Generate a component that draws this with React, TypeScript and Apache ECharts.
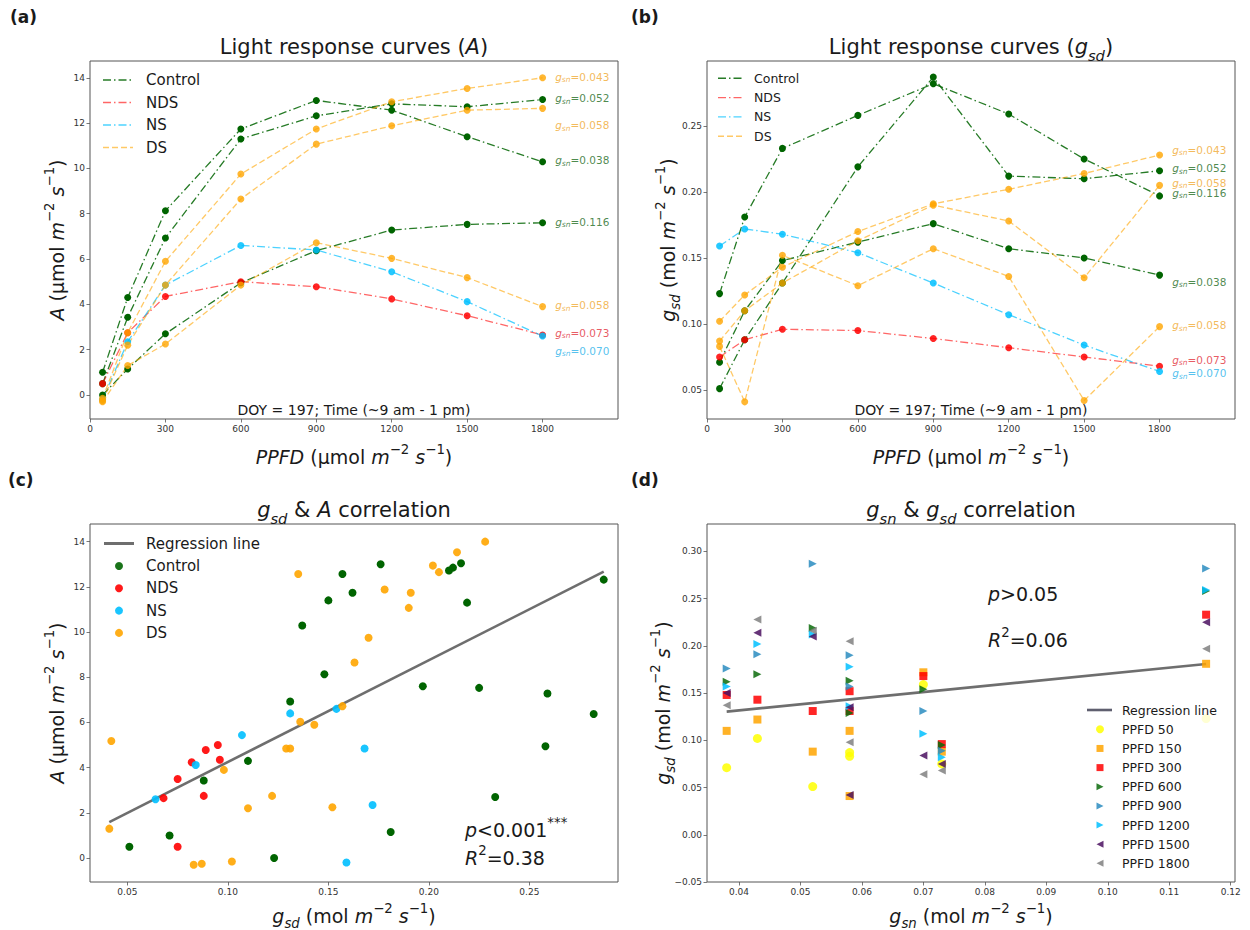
import React, { useEffect, useRef } from 'react';
import * as echarts from 'echarts';

// ---------------- data ----------------
const PPFD = [50, 150, 300, 600, 900, 1200, 1500, 1800];
const PLANT_IDS = ['Control-1', 'Control-2', 'Control-3', 'NDS-1', 'NS-1', 'DS-1', 'DS-2', 'DS-3'];
const PLANT_TREATMENT = ['Control', 'Control', 'Control', 'NDS', 'NS', 'DS', 'DS', 'DS'];
const PLANT_GSN = [0.052, 0.038, 0.116, 0.073, 0.070, 0.043, 0.058, 0.058];
const PLANT_GSN_TEXT = ['0.052', '0.038', '0.116', '0.073', '0.070', '0.043', '0.058', '0.058'];

const A_CONTROL_1 = [0.5, 3.43, 6.93, 11.3, 12.32, 12.85, 12.72, 13.04];
const A_CONTROL_2 = [1.0, 4.3, 8.13, 11.74, 13.0, 12.57, 11.4, 10.29];
const A_CONTROL_3 = [0.0, 1.15, 2.7, 4.95, 6.37, 7.28, 7.53, 7.6];
const A_NDS_1 = [0.5, 2.75, 4.35, 5.0, 4.78, 4.24, 3.5, 2.65];
const A_NS_1 = [-0.2, 2.35, 4.85, 6.6, 6.4, 5.44, 4.12, 2.6];
const A_DS_1 = [-0.15, 2.75, 5.9, 9.75, 11.74, 12.94, 13.53, 14.0];
const A_DS_2 = [-0.25, 2.2, 4.85, 8.65, 11.07, 11.88, 12.57, 12.65];
const A_DS_3 = [-0.3, 1.3, 2.25, 4.85, 6.72, 6.03, 5.18, 3.9];

const GSD_CONTROL_1 = [0.051, 0.088, 0.131, 0.219, 0.287, 0.212, 0.210, 0.216];
const GSD_CONTROL_2 = [0.071, 0.110, 0.148, 0.162, 0.176, 0.157, 0.150, 0.137];
const GSD_CONTROL_3 = [0.123, 0.181, 0.233, 0.258, 0.282, 0.259, 0.225, 0.197];
const GSD_NDS_1 = [0.075, 0.088, 0.096, 0.095, 0.089, 0.082, 0.075, 0.068];
const GSD_NS_1 = [0.159, 0.172, 0.168, 0.154, 0.131, 0.107, 0.084, 0.064];
const GSD_DS_1 = [0.102, 0.122, 0.143, 0.170, 0.191, 0.202, 0.214, 0.228];
const GSD_DS_2 = [0.087, 0.110, 0.131, 0.163, 0.190, 0.178, 0.135, 0.205];
const GSD_DS_3 = [0.083, 0.041, 0.152, 0.129, 0.157, 0.136, 0.042, 0.098];

// annotation anchor values (end-of-curve g_sn labels)
const LABEL_X = 1850;
const LABEL_Y_A = [13.1, 10.35, 7.65, 2.75, 1.95, 14.05, 11.9, 3.95];
const LABEL_Y_GSD = [0.218, 0.132, 0.1995, 0.0727, 0.0627, 0.232, 0.207, 0.099];

// tick labels
const PPFD_TICKS = [0, 300, 600, 900, 1200, 1500, 1800];
const A_TICKS = [0, 2, 4, 6, 8, 10, 12, 14];
const GSD_TICKS_B = [0.05, 0.1, 0.15, 0.2, 0.25];
const GSD_TICKS_C = [0.05, 0.1, 0.15, 0.2, 0.25];
const GSN_TICKS = [0.04, 0.05, 0.06, 0.07, 0.08, 0.09, 0.1, 0.11, 0.12];
const GSD_TICKS_D = [-0.05, 0, 0.05, 0.1, 0.15, 0.2, 0.25, 0.3];

const TREATMENTS = ['Control', 'NDS', 'NS', 'DS'];
const PPFD_LABELS = ['PPFD 50', 'PPFD 150', 'PPFD 300', 'PPFD 600', 'PPFD 900', 'PPFD 1200', 'PPFD 1500', 'PPFD 1800'];

const A_ALL = [A_CONTROL_1, A_CONTROL_2, A_CONTROL_3, A_NDS_1, A_NS_1, A_DS_1, A_DS_2, A_DS_3];
const GSD_ALL = [GSD_CONTROL_1, GSD_CONTROL_2, GSD_CONTROL_3, GSD_NDS_1, GSD_NS_1, GSD_DS_1, GSD_DS_2, GSD_DS_3];

// ---------------- styles ----------------
const FONT = 'DejaVu Sans';
const DASH_DOT = [8, 3, 1.5, 3];
const DASHED = [6, 3];
const TS: any = {
  Control: { color: '#006400', text: '#1d6b1d', dash: DASH_DOT, lineOp: 0.85, mkOp: 1 },
  NDS: { color: '#ff0000', text: '#e2303a', dash: DASH_DOT, lineOp: 0.6, mkOp: 0.85 },
  NS: { color: '#00bfff', text: '#29b2ea', dash: DASH_DOT, lineOp: 0.7, mkOp: 0.85 },
  DS: { color: '#ffa500', text: '#f0a830', dash: DASHED, lineOp: 0.6, mkOp: 0.8 },
};
const PPFD_STYLE: any[] = [
  { color: '#ffff00', symbol: 'circle', size: 9 },
  { color: '#ffa500', symbol: 'rect', size: 8 },
  { color: '#ff0000', symbol: 'rect', size: 8 },
  { color: '#0b6b0b', symbol: 'path://M0,0L10,5L0,10Z', size: 8 },
  { color: '#2a8cc0', symbol: 'path://M0,0L10,5L0,10Z', size: 8 },
  { color: '#00bfff', symbol: 'path://M0,0L10,5L0,10Z', size: 8 },
  { color: '#4b1060', symbol: 'path://M10,0L0,5L10,10Z', size: 8 },
  { color: '#808080', symbol: 'path://M10,0L0,5L10,10Z', size: 8 },
];

const GRIDS = [
  { left: 90, top: 61, width: 528, height: 358 },
  { left: 707, top: 61, width: 528, height: 358 },
  { left: 90, top: 524, width: 528, height: 358 },
  { left: 707, top: 524, width: 528, height: 358 },
];

const R = (s: number, c = '#1a1a1a') => ({
  n: { fontFamily: FONT, fontSize: s, color: c, lineHeight: s * 1.5 },
  i: { fontFamily: FONT, fontSize: s, fontStyle: 'italic', color: c, lineHeight: s * 1.5 },
  b: { fontFamily: FONT, fontSize: s, fontWeight: 'bold', color: c, lineHeight: s * 1.5 },
  sup: { fontFamily: FONT, fontSize: s * 0.7, color: c, verticalAlign: 'top', lineHeight: s * 0.84 },
  isub: { fontFamily: FONT, fontSize: s * 0.7, fontStyle: 'italic', color: c, verticalAlign: 'bottom', lineHeight: s * 0.84 },
});

function T(x: number, y: number, text: string, size: number, align = 'center', rotate = false, color = '#1a1a1a') {
  return {
    type: 'text', x, y, z: 100, silent: true,
    rotation: rotate ? Math.PI / 2 : 0,
    style: { text, rich: R(size, color), align, verticalAlign: 'middle', fontFamily: FONT, fontSize: size, fill: color },
  };
}

function fit(xs: number[], ys: number[]) {
  const n = xs.length;
  const mx = xs.reduce((a, b) => a + b, 0) / n;
  const my = ys.reduce((a, b) => a + b, 0) / n;
  let sxy = 0, sxx = 0;
  for (let i = 0; i < n; i++) { sxy += (xs[i] - mx) * (ys[i] - my); sxx += (xs[i] - mx) ** 2; }
  const slope = sxy / sxx;
  return { slope, intercept: my - slope * mx };
}

function axis(gridIndex: number, min: number, max: number, ticks: number[], fmt: (v: number) => string) {
  return {
    type: 'value', gridIndex, min, max,
    axisLine: { show: false, onZero: false },
    axisTick: { show: true, customValues: ticks, length: 3.5, lineStyle: { color: '#555', width: 0.8 } },
    axisLabel: { show: true, customValues: ticks, formatter: fmt, fontSize: 9, color: '#333', fontFamily: FONT, margin: 5 },
    splitLine: { show: false },
  };
}
const f0 = (v: number) => String(Math.round(v));
const f2 = (v: number) => v.toFixed(2).replace('-', '\u2212');

function buildOption() {
  const series: any[] = [];
  const annot = (c: string) => ({
    g: { fontFamily: FONT, fontSize: 10.5, fontStyle: 'italic', color: c, lineHeight: 14 },
    s: { fontFamily: FONT, fontSize: 7.5, fontStyle: 'italic', color: c, verticalAlign: 'bottom', lineHeight: 9 },
    v: { fontFamily: FONT, fontSize: 10.5, color: c, lineHeight: 14 },
  });

  // panels (a) and (b)
  [0, 1].forEach((ax) => {
    const vals = ax === 0 ? A_ALL : GSD_ALL;
    const labY = ax === 0 ? LABEL_Y_A : LABEL_Y_GSD;
    PLANT_IDS.forEach((id, p) => {
      const st = TS[PLANT_TREATMENT[p]];
      series.push({
        type: 'line', name: id, xAxisIndex: ax, yAxisIndex: ax, silent: true, z: 2,
        data: PPFD.map((x, k) => [x, vals[p][k]]),
        symbol: 'circle', symbolSize: 7, showSymbol: true,
        lineStyle: { color: st.color, width: 1.3, type: st.dash, opacity: st.lineOp },
        itemStyle: { color: st.color, opacity: st.mkOp },
      });
      series.push({
        type: 'scatter', xAxisIndex: ax, yAxisIndex: ax, silent: true, symbolSize: 0,
        itemStyle: { color: 'rgba(0,0,0,0)' },
        data: [[LABEL_X, labY[p]]],
        label: {
          show: true, position: 'right', distance: 0,
          formatter: `{g|g}{s|sn}{v|=${PLANT_GSN_TEXT[p]}}`, rich: annot(st.text),
        },
      });
    });
  });

  // panel (c)
  const allG: number[] = [], allA: number[] = [];
  PLANT_IDS.forEach((_, p) => PPFD.forEach((_, k) => { allG.push(GSD_ALL[p][k]); allA.push(A_ALL[p][k]); }));
  const fc = fit(allG, allA);
  const gmin = Math.min(...allG), gmax = Math.max(...allG);
  series.push({
    type: 'line', xAxisIndex: 2, yAxisIndex: 2, silent: true, symbol: 'none', z: 1,
    data: [[gmin, fc.intercept + fc.slope * gmin], [gmax, fc.intercept + fc.slope * gmax]],
    lineStyle: { color: '#6e6e6e', width: 2.6 },
  });
  TREATMENTS.forEach((t) => {
    const pts: number[][] = [];
    PLANT_IDS.forEach((_, p) => {
      if (PLANT_TREATMENT[p] === t) PPFD.forEach((_, k) => pts.push([GSD_ALL[p][k], A_ALL[p][k]]));
    });
    series.push({
      type: 'scatter', xAxisIndex: 2, yAxisIndex: 2, silent: true, z: 3,
      data: pts, symbol: 'circle', symbolSize: 8,
      itemStyle: { color: TS[t].color, opacity: t === 'Control' ? 1 : 0.9 },
    });
  });

  // panel (d)
  const allN: number[] = [], allD: number[] = [];
  PLANT_IDS.forEach((_, p) => PPFD.forEach((_, k) => { allN.push(PLANT_GSN[p]); allD.push(GSD_ALL[p][k]); }));
  const fd = fit(allN, allD);
  const nmin = Math.min(...allN), nmax = Math.max(...allN);
  series.push({
    type: 'line', xAxisIndex: 3, yAxisIndex: 3, silent: true, symbol: 'none', z: 1,
    data: [[nmin, fd.intercept + fd.slope * nmin], [nmax, fd.intercept + fd.slope * nmax]],
    lineStyle: { color: '#6e6e6e', width: 2.6 },
  });
  PPFD.forEach((_, k) => {
    const st = PPFD_STYLE[k];
    series.push({
      type: 'scatter', xAxisIndex: 3, yAxisIndex: 3, silent: true, z: 3,
      data: PLANT_IDS.map((_, p) => [PLANT_GSN[p], GSD_ALL[p][k]]),
      symbol: st.symbol, symbolSize: st.size,
      itemStyle: { color: st.color, opacity: 0.85 },
    });
  });

  // ---------- graphics: titles, labels, legends ----------
  const g: any[] = [];
  const unitsA = '{n| (µmol }{i|m}{sup|−2}{n| }{i|s}{sup|−1}{n|)}';
  const unitsG = '{n| (mol }{i|m}{sup|−2}{n| }{i|s}{sup|−1}{n|)}';
  g.push(T(10, 17, '{b|(a)}', 17, 'left'));
  g.push(T(631, 17, '{b|(b)}', 17, 'left'));
  g.push(T(8, 480, '{b|(c)}', 17, 'left'));
  g.push(T(631, 480, '{b|(d)}', 17, 'left'));
  g.push(T(354, 47, '{n|Light response curves (}{i|A}{n|)}', 21));
  g.push(T(971, 47, '{n|Light response curves (}{i|g}{isub|sd}{n|)}', 21));
  g.push(T(354, 510, '{i|g}{isub|sd}{n| & }{i|A}{n| correlation}', 21));
  g.push(T(971, 510, '{i|g}{isub|sn}{n| & }{i|g}{isub|sd}{n| correlation}', 21));
  g.push(T(354, 457, '{i|PPFD}' + unitsA, 19));
  g.push(T(971, 457, '{i|PPFD}' + unitsA, 19));
  g.push(T(354, 916, '{i|g}{isub|sd}' + unitsG, 19));
  g.push(T(971, 916, '{i|g}{isub|sn}' + unitsG, 19));
  g.push(T(57, 240, '{i|A}' + unitsA, 19, 'center', true));
  g.push(T(668, 240, '{i|g}{isub|sd}' + unitsG, 19, 'center', true));
  g.push(T(57, 703, '{i|A}' + unitsA, 19, 'center', true));
  g.push(T(663, 703, '{i|g}{isub|sd}' + unitsG, 19, 'center', true));
  g.push(T(354, 410, '{n|DOY = 197; Time (~9 am - 1 pm)}', 14));
  g.push(T(971, 410, '{n|DOY = 197; Time (~9 am - 1 pm)}', 14));
  g.push(T(465, 830, '{i|p}{n|<0.001}{sup|***}', 19, 'left'));
  g.push(T(465, 858, '{i|R}{sup|2}{n|=0.38}', 19, 'left'));
  g.push(T(988, 594, '{i|p}{n|>0.05}', 19, 'left'));
  g.push(T(988, 640, '{i|R}{sup|2}{n|=0.06}', 19, 'left'));

  // legends (a) and (b)
  const lineLegend = (x1: number, x2: number, tx: number, y0: number, dy: number, size: number) => {
    TREATMENTS.forEach((t, i) => {
      const y = y0 + i * dy;
      g.push({ type: 'line', z: 100, silent: true, shape: { x1, y1: y, x2, y2: y },
        style: { stroke: TS[t].color, lineWidth: 1.4, lineDash: TS[t].dash, opacity: TS[t].lineOp } });
      g.push(T(tx, y, `{n|${t}}`, size, 'left'));
    });
  };
  lineLegend(103, 133, 146, 80, 22.5, 15);
  lineLegend(718, 743, 754, 78.3, 19.3, 12.5);

  // legend (c)
  g.push({ type: 'line', z: 100, silent: true, shape: { x1: 104, y1: 543.5, x2: 134, y2: 543.5 },
    style: { stroke: '#6e6e6e', lineWidth: 3 } });
  g.push(T(146, 543.5, '{n|Regression line}', 15, 'left'));
  TREATMENTS.forEach((t, i) => {
    const y = 566 + i * 22.3;
    g.push({ type: 'circle', z: 100, silent: true, shape: { cx: 119, cy: y, r: 4 }, style: { fill: TS[t].color, opacity: 0.9 } });
    g.push(T(146, y, `{n|${t}}`, 15, 'left'));
  });

  // legend (d)
  g.push({ type: 'rect', z: 99, silent: true, shape: { x: 1080, y: 699, width: 150, height: 176 },
    style: { fill: 'rgba(255,255,255,0.8)' } });
  g.push({ type: 'line', z: 100, silent: true, shape: { x1: 1087, y1: 710, x2: 1112, y2: 710 },
    style: { stroke: '#5f5f6f', lineWidth: 2.6 } });
  g.push(T(1122, 710, '{n|Regression line}', 12.5, 'left'));
  PPFD_LABELS.forEach((lab, k) => {
    const y = 729.3 + k * 19.15;
    const st = PPFD_STYLE[k];
    const cx = 1100;
    let shape: any;
    if (k === 0) shape = { type: 'circle', shape: { cx, cy: y, r: 4 } };
    else if (k <= 2) shape = { type: 'rect', shape: { x: cx - 3.5, y: y - 3.5, width: 7, height: 7 } };
    else if (k <= 5) shape = { type: 'polygon', shape: { points: [[cx - 3.5, y - 3.5], [cx + 3.5, y], [cx - 3.5, y + 3.5]] } };
    else shape = { type: 'polygon', shape: { points: [[cx + 3.5, y - 3.5], [cx - 3.5, y], [cx + 3.5, y + 3.5]] } };
    g.push({ ...shape, z: 100, silent: true, style: { fill: st.color, opacity: 0.85 } });
    g.push(T(1122, y, `{n|${lab}}`, 12.5, 'left'));
  });

  return {
    animation: false,
    backgroundColor: '#ffffff',
    grid: GRIDS.map((gr) => ({ ...gr, show: true, borderColor: '#555', borderWidth: 1, backgroundColor: 'transparent', containLabel: false })),
    xAxis: [
      axis(0, 0, 2100, PPFD_TICKS, f0),
      axis(1, 0, 2100, PPFD_TICKS, f0),
      axis(2, 0.0314, 0.2941, GSD_TICKS_C, f2),
      axis(3, 0.0348, 0.1207, GSN_TICKS, f2),
    ],
    yAxis: [
      axis(0, -1.06, 14.74, A_TICKS, f0),
      axis(1, 0.028, 0.2992, GSD_TICKS_B, f2),
      axis(2, -1.06, 14.78, A_TICKS, f0),
      axis(3, -0.05, 0.329, GSD_TICKS_D, f2),
    ],
    series,
    graphic: { elements: g },
  };
}

export default function App() {
  const ref = useRef<HTMLDivElement>(null);
  useEffect(() => {
    if (!ref.current) return;
    const chart = echarts.init(ref.current, undefined, { renderer: 'svg' });
    chart.setOption(buildOption() as any);
    return () => chart.dispose();
  }, []);
  return (
    <div
      ref={ref}
      style={{ position: 'absolute', left: 0, top: 0, width: 1250, height: 930, background: '#fff' }}
    />
  );
}
